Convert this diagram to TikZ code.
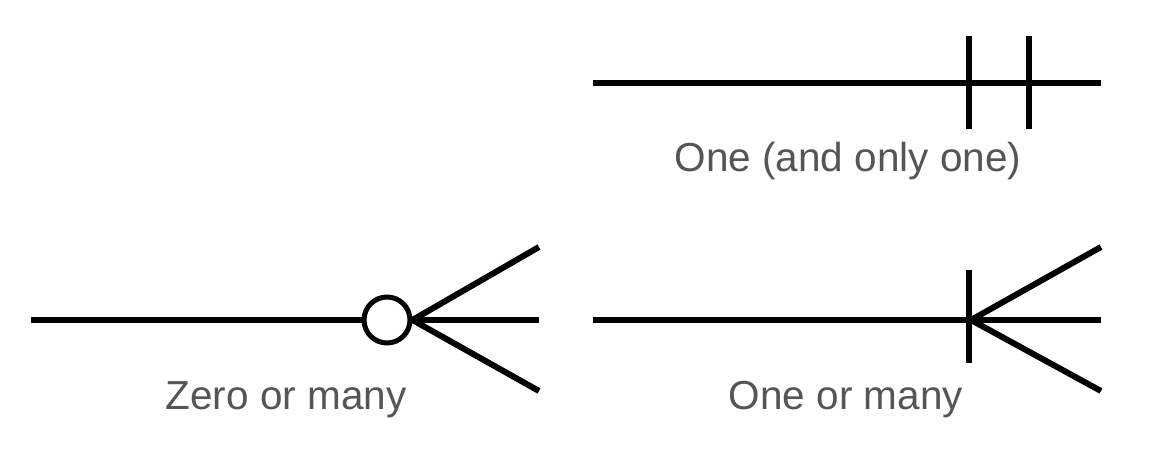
\documentclass[tikz,border=0pt]{standalone}
\usepackage{fontspec}
\setmainfont{Liberation Sans}
\usetikzlibrary{positioning}
\definecolor{labelGris}{RGB}{85,85,85}

\begin{document}
\begin{tikzpicture}[
  x=1pt, y=-1pt,
  trait/.style={line width=6pt, black},
  barre/.style={line width=6pt, black},
  rond/.style={circle, draw=black, line width=5pt, fill=white, inner sep=0pt, minimum size=46pt},
  lbl/.style={anchor=base, text=labelGris, font=\fontsize{40.5}{43}\selectfont}
]
\useasboundingbox (0,0) rectangle (1163,449);

% un (et un seul)
\coordinate (unA) at (593,83);
\coordinate (unB) at (1101,83);
\coordinate (unH1) at (969,36);
\coordinate (unB1) at (969,129);
\coordinate (unH2) at (1029,36);
\coordinate (unB2) at (1029,129);
\draw[trait] (unA) -- (unB);
\draw[barre] (unH1) -- (unB1);
\draw[barre] (unH2) -- (unB2);
\node[lbl] (unTxt) at (848,172) {One (and only one)};

% zero ou plusieurs
\coordinate (zeA) at (31,320);
\coordinate (zeB) at (539,320);
\coordinate (zeH) at (539,247);
\coordinate (zeBas) at (539,391);
\draw[trait] (zeA) -- (zeB);
\node[rond] (zeRond) at (387,320) {};
\draw[trait] (zeRond.east) -- (zeH);
\draw[trait] (zeRond.east) -- (zeBas);
\node[lbl] (zeTxt) at (286,409) {Zero or many};

% un ou plusieurs
\coordinate (upA) at (593,320);
\coordinate (upB) at (1101,320);
\coordinate (upPt) at (971,320);
\coordinate (upH) at (1101,247);
\coordinate (upBas) at (1101,391);
\coordinate (upBarH) at (969,270);
\coordinate (upBarB) at (969,363);
\draw[trait] (upA) -- (upB);
\draw[barre] (upBarH) -- (upBarB);
\draw[trait] (upPt) -- (upH);
\draw[trait] (upPt) -- (upBas);
\node[lbl] (upTxt) at (846,409) {One or many};

\end{tikzpicture}
\end{document}
